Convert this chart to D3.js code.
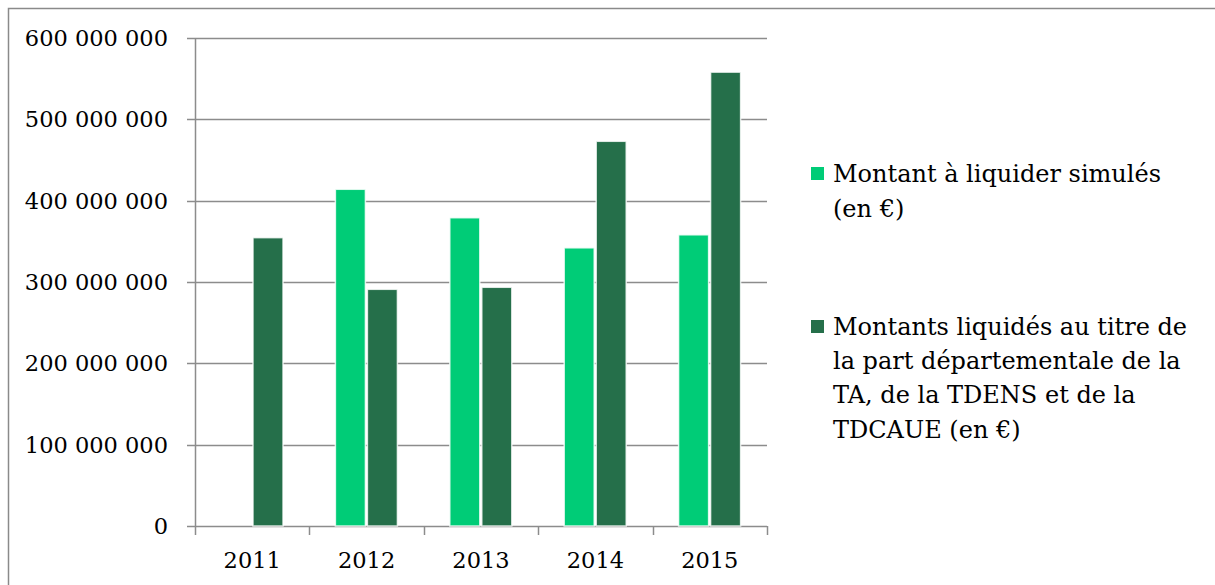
<!DOCTYPE html>
<html><head><meta charset="utf-8">
<script src="https://cdn.jsdelivr.net/npm/d3@7"></script>
<style>html,body{margin:0;padding:0;background:#fff;}svg{display:block;}</style>
</head><body>
<svg id="c" width="1215" height="585"></svg>
<script>
const categories = ["2011","2012","2013","2014","2015"];
const simules = [null, 414000000, 379000000, 342000000, 358000000];
const liquides = [354500000, 291000000, 293500000, 473000000, 558000000];
const yTicks = [0,100000000,200000000,300000000,400000000,500000000,600000000];
const seriesNames = ["Montant à liquider simulés (en €)",
  "Montants liquidés au titre de la part départementale de la TA, de la TDENS et de la TDCAUE (en €)"];
const legendLines = [["Montant à liquider simulés","(en €)"],
  ["Montants liquidés au titre de","la part départementale de la","TA, de la TDENS et de la","TDCAUE (en €)"]];
const colors = ["#00CC77","#256F4A"];

const svg = d3.select("#c");
const FONT = "'DejaVu Serif', serif";
const FS = 22.5, LFS = 24;
svg.append("rect").attr("x",8.5).attr("y",8.5).attr("width",1230).attr("height",600)
  .attr("fill","none").attr("stroke","#8a8a8a").attr("stroke-width",1.5);

const x0 = 195, x1 = 767, yTop = 38, yBot = 526;
const x = d3.scaleBand().domain(categories).range([x0,x1]);
const y = d3.scaleLinear().domain([0,600000000]).range([yBot,yTop]);
const fmt = v => d3.format(",")(v).replace(/,/g," ");

// gridlines
svg.append("g").selectAll("line").data(yTicks).join("line")
  .attr("x1",x0-8).attr("x2",x1).attr("y1",d=>Math.round(y(d))+0.5).attr("y2",d=>Math.round(y(d))+0.5)
  .attr("stroke","#8c8c8c").attr("stroke-width",1.5);
// y axis line
svg.append("line").attr("x1",x0+0.5).attr("x2",x0+0.5).attr("y1",yTop).attr("y2",yBot+9)
  .attr("stroke","#8c8c8c").attr("stroke-width",1.5);
// x ticks
const bounds = categories.map(c=>x(c)).concat([x1]);
svg.append("g").selectAll("line").data(bounds.slice(1)).join("line")
  .attr("x1",d=>Math.round(d)+0.5).attr("x2",d=>Math.round(d)+0.5).attr("y1",yBot).attr("y2",yBot+9)
  .attr("stroke","#8c8c8c").attr("stroke-width",1.5);
// y labels
svg.append("g").selectAll("text").data(yTicks).join("text")
  .attr("x",168).attr("y",d=>y(d)+8).attr("text-anchor","end")
  .attr("font-family",FONT).attr("font-size",FS).attr("fill","#000").text(fmt);
// x labels
svg.append("g").selectAll("text").data(categories).join("text")
  .attr("x",d=>x(d)+x.bandwidth()/2).attr("y",568).attr("text-anchor","middle")
  .attr("font-family",FONT).attr("font-size",FS).attr("fill","#000").text(d=>d);

// bars
const bw = 30, gap = 2, off = 26;
[simules, liquides].forEach((arr,si)=>{
  svg.append("g").selectAll("rect").data(arr.map((v,i)=>({v,c:categories[i]})).filter(d=>d.v!=null)).join("rect")
    .attr("x",d=>x(d.c)+off+si*(bw+gap))
    .attr("y",d=>y(d.v)).attr("width",bw).attr("height",d=>yBot-y(d.v))
    .attr("fill",colors[si]).attr("stroke","#fff").attr("stroke-width",1.5).attr("stroke-opacity",0.8);
});

// legend
const legY = [[182,217],[335,369,403,438]];
legendLines.forEach((lines,i)=>{
  svg.append("rect").attr("x",811).attr("y",legY[i][0]-15).attr("width",13).attr("height",13).attr("fill",colors[i]);
  const t = svg.append("text").attr("font-family",FONT).attr("font-size",LFS).attr("fill","#000");
  lines.forEach((l,j)=>t.append("tspan").attr("x",833).attr("y",legY[i][j]).text(l));
});
</script>
</body></html>
